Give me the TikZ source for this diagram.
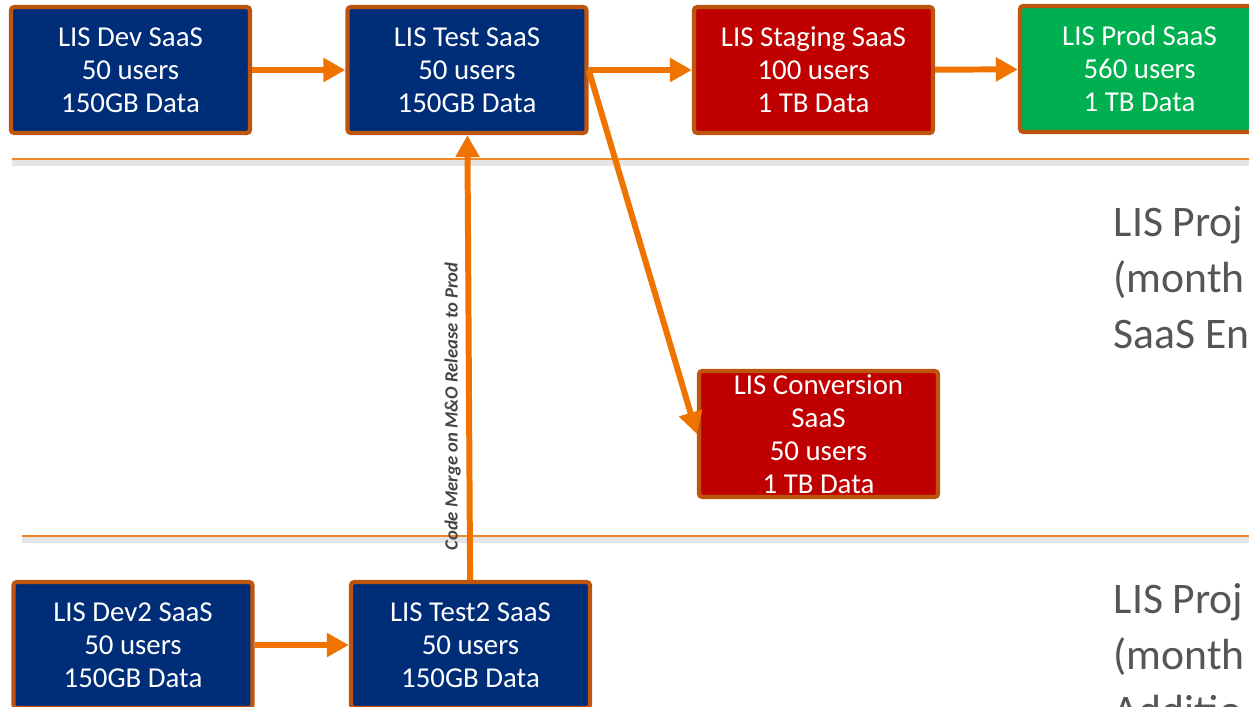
\documentclass[tikz,border=0pt]{standalone}
\usepackage{fontspec}
\setmainfont{Carlito}
\usetikzlibrary{arrows.meta}
\definecolor{boxblue}{RGB}{0,45,120}
\definecolor{boxred}{RGB}{192,0,0}
\definecolor{boxgreen}{RGB}{0,176,80}
\definecolor{boxrim}{RGB}{190,85,15}
\definecolor{flow}{RGB}{240,115,0}
\definecolor{note}{RGB}{85,85,85}
\begin{document}
\begin{tikzpicture}[x=0.01cm,y=-0.01cm,
            env/.style={draw=boxrim,line width=1.2pt,rounded corners=1pt,text=white,align=center,
                minimum width=2.39cm,minimum height=1.26cm,inner sep=0pt,
                font=\fontsize{8.2pt}{9.4pt}\selectfont},
            flowarrow/.style={draw=flow,line width=1.7pt,-{Triangle[length=0.22cm,width=0.23cm]}},
            sepline/.style={draw=flow!85,line width=0.45pt},
            sepshadow/.style={draw=black!10,line width=1.6pt},
            projnote/.style={anchor=base west,align=left,text=note,inner sep=0pt,
                font=\fontsize{12.4pt}{15.9pt}\selectfont},
            mergelabel/.style={text=note!80!black,inner sep=1.5pt,
                font=\fontsize{5.3pt}{6pt}\selectfont\bfseries\itshape}]
            \useasboundingbox (0,0) rectangle (1249,706);
            \clip (0,0) rectangle (1249,706);
            \coordinate (topL) at (12,159);
            \coordinate (topR) at (1249,159);
            \coordinate (lowL) at (22,536);
            \coordinate (lowR) at (1249,536);
            \draw[sepshadow] ([yshift=-1.1pt]topL) -- ([yshift=-1.1pt]topR);
            \draw[sepshadow] ([yshift=-1.1pt]lowL) -- ([yshift=-1.1pt]lowR);
            \draw[sepline] (topL) -- (topR);
            \draw[sepline] (lowL) -- (lowR);
            \node[env,fill=boxblue] (dev) at (130.5,70) {LIS Dev SaaS\\50 users\\150GB Data};
            \node[env,fill=boxblue] (test) at (467,70) {LIS Test SaaS\\50 users\\150GB Data};
            \node[env,fill=boxred] (staging) at (813.5,70) {LIS Staging SaaS\\100 users\\1 TB Data};
            \node[env,fill=boxgreen] (prod) at (1139.5,69) {LIS Prod SaaS\\560 users\\1 TB Data};
            \node[env,fill=boxred] (conv) at (818.5,434) {LIS Conversion\\SaaS\\50 users\\1 TB Data};
            \node[env,fill=boxblue] (dev2) at (133,645) {LIS Dev2 SaaS\\50 users\\150GB Data};
            \node[env,fill=boxblue] (test2) at (470.5,645) {LIS Test2 SaaS\\50 users\\150GB Data};
            \node[projnote] (projA) at (1113,348) {LIS Proj\\(month\\SaaS En};
            \node[projnote] (projB) at (1113,725) {LIS Proj\\(month\\Additio};
            \draw[flowarrow] (dev) -- (test);
            \draw[flowarrow] (test) -- (staging);
            \draw[flowarrow] (staging) -- (prod);
            \draw[flowarrow] (test.east) -- (conv.west);
            \draw[flowarrow] (dev2) -- (test2);
            \draw[flowarrow] (test2) -- node[pos=0.39,rotate=90,anchor=south,mergelabel] {Code Merge on M\&O Release to Prod} (test);
    \end{tikzpicture}
\end{document}
